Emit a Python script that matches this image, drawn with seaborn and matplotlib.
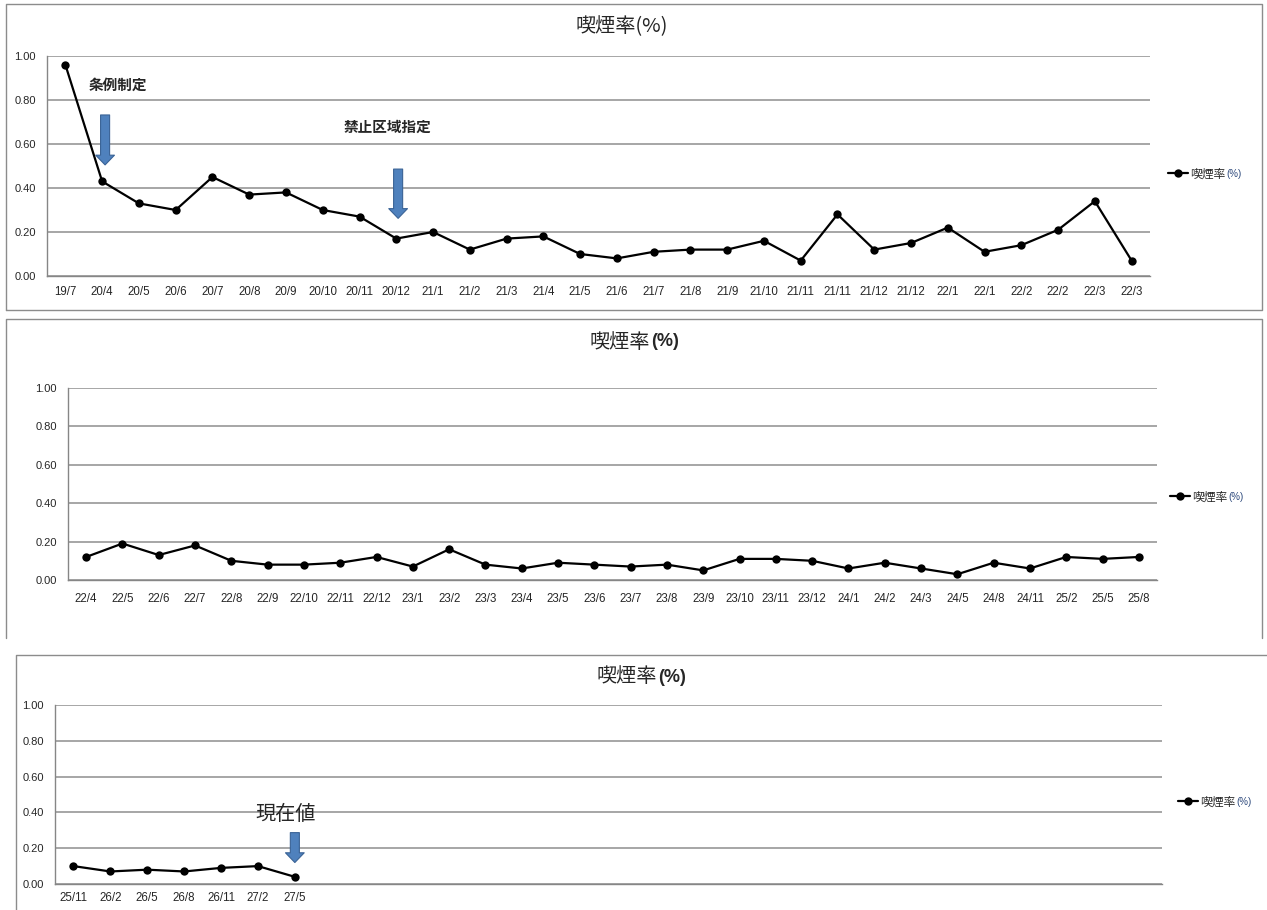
import numpy as np
import pandas as pd
import matplotlib
matplotlib.use("Agg")
import matplotlib.pyplot as plt
from matplotlib.lines import Line2D
from matplotlib.ticker import FormatStrFormatter
import seaborn as sns

# ---- survey data: smoking rate (%) by survey month ----
labels_1 = ["19/7", "20/4", "20/5", "20/6", "20/7", "20/8", "20/9", "20/10", "20/11", "20/12",
            "21/1", "21/2", "21/3", "21/4", "21/5", "21/6", "21/7", "21/8", "21/9", "21/10",
            "21/11", "21/11", "21/12", "21/12", "22/1", "22/1", "22/2", "22/2", "22/3", "22/3"]
rate_1 = [0.96, 0.43, 0.33, 0.30, 0.45, 0.37, 0.38, 0.30, 0.27, 0.17,
          0.20, 0.12, 0.17, 0.18, 0.10, 0.08, 0.11, 0.12, 0.12, 0.16,
          0.07, 0.28, 0.12, 0.15, 0.22, 0.11, 0.14, 0.21, 0.34, 0.07]

labels_2 = ["22/4", "22/5", "22/6", "22/7", "22/8", "22/9", "22/10", "22/11", "22/12", "23/1",
            "23/2", "23/3", "23/4", "23/5", "23/6", "23/7", "23/8", "23/9", "23/10", "23/11",
            "23/12", "24/1", "24/2", "24/3", "24/5", "24/8", "24/11", "25/2", "25/5", "25/8"]
rate_2 = [0.12, 0.19, 0.13, 0.18, 0.10, 0.08, 0.08, 0.09, 0.12, 0.07,
          0.16, 0.08, 0.06, 0.09, 0.08, 0.07, 0.08, 0.05, 0.11, 0.11,
          0.10, 0.06, 0.09, 0.06, 0.03, 0.09, 0.06, 0.12, 0.11, 0.12]

labels_3 = ["25/11", "26/2", "26/5", "26/8", "26/11", "27/2", "27/5"]
rate_3 = [0.10, 0.07, 0.08, 0.07, 0.09, 0.10, 0.04]

y_ticks = [0.0, 0.2, 0.4, 0.6, 0.8, 1.0]
N_SLOTS = 30

TITLE = "喫煙率"
UNIT = "(%)"
LEGEND = "喫煙率"

sns.set_style("white")
CJK = ["Noto Sans CJK JP", "DejaVu Sans"]
plt.rcParams["font.family"] = ["Liberation Sans", "Noto Sans CJK JP", "DejaVu Sans"]

W, H = 1267, 910
fig = plt.figure(figsize=(W / 100, H / 100), dpi=100)
fig.patch.set_facecolor("white")

AX_GREY = "#868686"
GRID_GREY = "#A6A6A6"
ARROW_FACE = "#4F81BD"
ARROW_EDGE = "#3A6396"


def fx(px):
    return px / W


def fy(py):
    return 1 - py / H


def axes_px(l, t, r, b):
    return fig.add_axes([l / W, 1 - b / H, (r - l) / W, (b - t) / H])


def frame_lines(points):
    xs = [fx(p[0]) for p in points]
    ys = [fy(p[1]) for p in points]
    fig.add_artist(Line2D(xs, ys, color="#8C8C8C", lw=1.0, transform=fig.transFigure))


def draw_panel(ax, labels, rate, xpad):
    df = pd.DataFrame({"pos": np.arange(len(rate)), "rate": rate})
    sns.lineplot(data=df, x="pos", y="rate", ax=ax, color="black", lw=1.6,
                 marker="o", markersize=6, markeredgewidth=0, label=LEGEND)
    ax.set_xlim(-0.5, N_SLOTS - 0.5)
    ax.set_ylim(0, 1.0)
    ax.set_xticks(np.arange(len(labels)))
    ax.set_xticklabels(labels)
    ax.set_xticks(np.arange(N_SLOTS + 1) - 0.5, minor=True)
    ax.tick_params(axis="x", which="major", length=0, pad=xpad, labelsize=8.3, labelcolor="#262626")
    ax.tick_params(axis="x", which="minor", length=4, width=0.9, color=AX_GREY, direction="out")
    ax.set_yticks(y_ticks)
    ax.yaxis.set_major_formatter(FormatStrFormatter("%.2f"))
    ax.tick_params(axis="y", length=3, width=0.9, color=AX_GREY, direction="out",
                   pad=5, labelsize=8, labelcolor="#262626")
    ax.grid(axis="y", color=GRID_GREY, lw=1.4)
    ax.grid(axis="x", visible=False)
    for s in ("top", "right"):
        ax.spines[s].set_visible(False)
    for s in ("left", "bottom"):
        ax.spines[s].set_color(AX_GREY)
        ax.spines[s].set_linewidth(1.0)
    ax.set_xlabel("")
    ax.set_ylabel("")
    ax.set_axisbelow(True)


def block_arrow(ax, x, y_top, y_tip):
    ax.annotate("", xy=(x, y_tip), xytext=(x, y_top),
                arrowprops=dict(arrowstyle="simple,head_length=0.7,head_width=1.35,tail_width=0.65",
                                mutation_scale=10, fc=ARROW_FACE, ec=ARROW_EDGE, lw=0.8,
                                shrinkA=0, shrinkB=0))


def legend_at(ax, lx, ly):
    leg = ax.legend(loc="center left", bbox_to_anchor=(fx(lx), fy(ly)),
                    bbox_transform=fig.transFigure, frameon=False,
                    handlelength=1.7, handletextpad=0.2, borderpad=0, borderaxespad=0,
                    prop={"family": CJK, "size": 8.5})
    return leg


# ---- panel frames ----
frame_lines([(6, 310), (6, 4), (1262, 4), (1262, 310), (6, 310)])
frame_lines([(6, 638), (6, 319), (1262, 319), (1262, 638)])
frame_lines([(16, 910), (16, 655), (1267, 655)])

# ---- panel 1 ----
ax1 = axes_px(47, 56, 1150, 276)
draw_panel(ax1, labels_1, rate_1, xpad=7.5)
leg1 = legend_at(ax1, 1168, 174)
ax1.text(1.43, 0.868, "条例制定", ha="center", va="center", fontsize=10.5,
         fontweight="bold", family=CJK)
ax1.text(8.75, 0.677, "禁止区域指定", ha="center", va="center", fontsize=10.5,
         fontweight="bold", family=CJK)
block_arrow(ax1, 1.08, 0.732, 0.505)
block_arrow(ax1, 9.05, 0.486, 0.262)
fig.text(fx(622), fy(27), TITLE + UNIT, ha="center", va="center", fontsize=14.5, family=CJK)

# ---- panel 2 ----
ax2 = axes_px(68, 388, 1157, 580)
draw_panel(ax2, labels_2, rate_2, xpad=9.5)
leg2 = legend_at(ax2, 1170, 497)
fig.text(fx(650), fy(342), TITLE, ha="right", va="center", fontsize=14.5, family=CJK)
fig.text(fx(651), fy(342), UNIT, ha="left", va="center", fontsize=13,
         fontweight="bold", family=["Liberation Sans"])

# ---- panel 3 ----
ax3 = axes_px(55, 705, 1162, 884)
draw_panel(ax3, labels_3, rate_3, xpad=6)
leg3 = legend_at(ax3, 1178, 802)
ax3.text(5.76, 0.39, "現在値", ha="center", va="center", fontsize=14.5, family=CJK)
block_arrow(ax3, 6.0, 0.287, 0.120)
fig.text(fx(657), fy(677), TITLE, ha="right", va="center", fontsize=14.5, family=CJK)
fig.text(fx(658), fy(677), UNIT, ha="left", va="center", fontsize=13,
         fontweight="bold", family=["Liberation Sans"])

# ---- unit suffix after each legend entry ----
fig.canvas.draw()
renderer = fig.canvas.get_renderer()
for leg in (leg1, leg2, leg3):
    bb = leg.get_texts()[0].get_window_extent(renderer)
    fig.text((bb.x1 + 1) / W, (bb.y0 + bb.y1) / 2 / H, UNIT, ha="left", va="center",
             fontsize=7, color="#2E4A7D", family=["Liberation Sans"])

fig.savefig("out.png", dpi=100, facecolor="white")
